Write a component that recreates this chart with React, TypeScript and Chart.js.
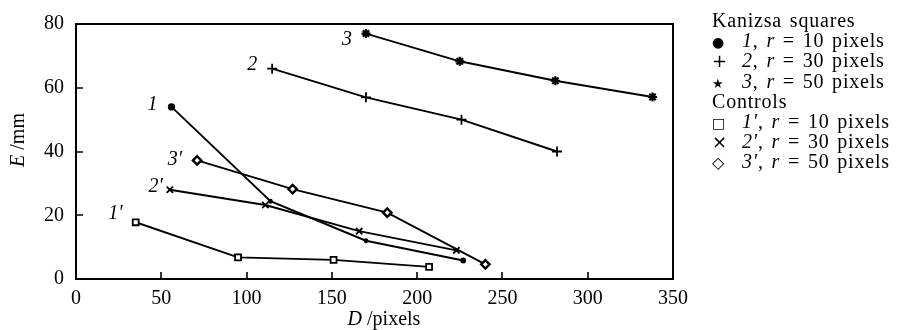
import React, { useEffect, useRef } from "react";
import { Chart, registerables } from "chart.js";

Chart.register(...registerables);

// Kanizsa squares
const D1 = [56, 114, 170, 227];
const E1 = [54, 24.4, 12, 5.8];
const D2 = [115, 170, 226, 282];
const E2 = [66, 57, 50, 40];
const D3 = [170, 225, 281, 338];
const E3 = [77, 68.3, 62.2, 57.1];
// Controls
const DC1 = [35, 95, 151, 207];
const EC1 = [17.8, 6.8, 6.0, 3.8];
const DC2 = [55, 111, 166, 223];
const EC2 = [28, 23.2, 15, 9];
const DC3 = [71, 127, 182.5, 240];
const EC3 = [37.2, 28.2, 20.8, 4.6];

const curveLabels = ["1", "2", "3", "1′", "2′", "3′"];
const xTicks = [0, 50, 100, 150, 200, 250, 300, 350];
const yTicks = [0, 20, 40, 60, 80];

const FONT = "'Liberation Serif', 'Times New Roman', serif";

const toPts = (xs: number[], ys: number[]) => xs.map((x, i) => ({ x, y: ys[i] }));

// label offsets (right edge dx, center dy) relative to first point in px
const labelOffsets = [
  [-14, -2],
  [-15, -4],
  [-14, 6],
  [-13, -9],
  [-7, -3],
  [-15, -1],
];

const overlay = {
  id: "overlay",
  afterDraw(chart: any) {
    const { ctx, chartArea: a, scales } = chart;
    const xs = scales.x;
    const ys = scales.y;
    ctx.save();
    ctx.strokeStyle = "#000";
    ctx.lineWidth = 2;
    ctx.strokeRect(a.left, a.top, a.right - a.left, a.bottom - a.top);
    ctx.lineWidth = 1.6;
    ctx.beginPath();
    xTicks.slice(1, -1).forEach((t) => {
      const px = Math.round(xs.getPixelForValue(t));
      ctx.moveTo(px, a.bottom);
      ctx.lineTo(px, a.bottom - 7);
    });
    yTicks.slice(1, -1).forEach((t) => {
      const py = Math.round(ys.getPixelForValue(t));
      ctx.moveTo(a.left, py);
      ctx.lineTo(a.left + 7, py);
    });
    ctx.stroke();

    // curve labels
    ctx.fillStyle = "#000";
    ctx.font = `italic 20px ${FONT}`;
    ctx.textAlign = "right";
    ctx.textBaseline = "middle";
    chart.data.datasets.forEach((ds: any, i: number) => {
      const p = ds.data[0];
      const px = xs.getPixelForValue(p.x);
      const py = ys.getPixelForValue(p.y);
      ctx.fillText(curveLabels[i], px + labelOffsets[i][0], py + labelOffsets[i][1]);
    });

    // axis titles
    const drawMixed = (parts: [string, string][], cx: number, cy: number) => {
      let total = 0;
      parts.forEach(([t, f]) => {
        ctx.font = f;
        total += ctx.measureText(t).width;
      });
      let x = cx - total / 2;
      ctx.textAlign = "left";
      parts.forEach(([t, f]) => {
        ctx.font = f;
        ctx.fillText(t, x, cy);
        x += ctx.measureText(t).width;
      });
    };
    drawMixed(
      [
        ["D", `italic 20px ${FONT}`],
        [" /pixels", `20px ${FONT}`],
      ],
      384,
      320
    );
    ctx.save();
    ctx.translate(19, 140);
    ctx.rotate(-Math.PI / 2);
    drawMixed(
      [
        ["E", `italic 20px ${FONT}`],
        [" /mm", `20px ${FONT}`],
      ],
      0,
      0
    );
    ctx.restore();
    ctx.restore();
  },
};

export default function App() {
  const ref = useRef<HTMLCanvasElement>(null);
  useEffect(() => {
    if (!ref.current) return;
    const base = {
      borderColor: "#000",
      pointBorderColor: "#000",
      borderWidth: 1.9,
      showLine: true,
      pointBorderWidth: 1.8,
    };
    const chart = new Chart(ref.current, {
      type: "scatter",
      data: {
        datasets: [
          { ...base, label: "1", data: toPts(D1, E1), pointStyle: "circle", pointRadius: [2.8, 1.5, 1.5, 2], pointBackgroundColor: "#000" },
          { ...base, label: "2", data: toPts(D2, E2), pointStyle: "cross", pointRadius: 5 },
          { ...base, label: "3", data: toPts(D3, E3), pointStyle: "star", pointRadius: 4.5, pointBorderWidth: 2.2 },
          { ...base, label: "1′", data: toPts(DC1, EC1), pointStyle: "rect", pointRadius: 4.2, pointBackgroundColor: "#fff" },
          { ...base, label: "2′", data: toPts(DC2, EC2), pointStyle: "crossRot", pointRadius: 4.5 },
          { ...base, label: "3′", data: toPts(DC3, EC3), pointStyle: "rectRot", pointRadius: 4.2, pointBackgroundColor: "#fff", pointBorderWidth: 2.4 },
        ],
      },
      options: {
        responsive: false,
        animation: false,
        devicePixelRatio: 1,
        layout: { padding: { top: 13, right: 234, left: 0, bottom: 0 } },
        plugins: { legend: { display: false }, tooltip: { enabled: false } },
        scales: {
          x: {
            type: "linear",
            min: 0,
            max: 350,
            afterBuildTicks: (s: any) => {
              s.ticks = xTicks.map((v) => ({ value: v }));
            },
            afterFit: (s: any) => {
              s.height = 51;
            },
            ticks: { font: { family: FONT, size: 20 }, color: "#000", padding: 8, maxRotation: 0 },
            grid: { display: false, drawTicks: false },
            border: { display: false },
          },
          y: {
            type: "linear",
            min: 0,
            max: 80,
            afterBuildTicks: (s: any) => {
              s.ticks = yTicks.map((v) => ({ value: v }));
            },
            afterFit: (s: any) => {
              s.width = 76;
            },
            ticks: { font: { family: FONT, size: 20 }, color: "#000", padding: 12 },
            grid: { display: false, drawTicks: false },
            border: { display: false },
          },
        },
      } as any,
      plugins: [overlay],
    });
    return () => chart.destroy();
  }, []);

  const row: React.CSSProperties = { height: 20.2, lineHeight: "20.2px", whiteSpace: "nowrap" };
  const mk: React.CSSProperties = { display: "inline-block", width: 30, textAlign: "left" };
  const items: [string, string, string, number][] = [
    ["●", "1", "10", 14],
    ["+", "2", "30", 18],
    ["★", "3", "50", 13],
  ];
  const ctrls: [string, string, string, number][] = [
    ["□", "1′", "10", 14],
    ["×", "2′", "30", 18],
    ["◇", "3′", "50", 16],
  ];
  const renderRow = ([m, n, r, sz]: [string, string, string, number]) => (
    <div style={row} key={n}>
      <span style={{ ...mk, fontSize: sz, fontFamily: "'DejaVu Sans', sans-serif" }}>{m}</span>
      <i>{n}</i>, <i>r</i> = {r} pixels
    </div>
  );
  return (
    <div style={{ position: "absolute", left: 0, top: 0, width: 907, height: 330, background: "#fff" }}>
      <canvas ref={ref} width={907} height={330} style={{ display: "block" }} />
      <div
        style={{
          position: "absolute",
          left: 712,
          top: 10,
          fontFamily: FONT,
          fontSize: 20,
          letterSpacing: "0.8px",
          wordSpacing: "2px",
          color: "#000",
        }}
      >
        <div style={row}>Kanizsa squares</div>
        {items.map(renderRow)}
        <div style={row}>Controls</div>
        {ctrls.map(renderRow)}
      </div>
    </div>
  );
}
